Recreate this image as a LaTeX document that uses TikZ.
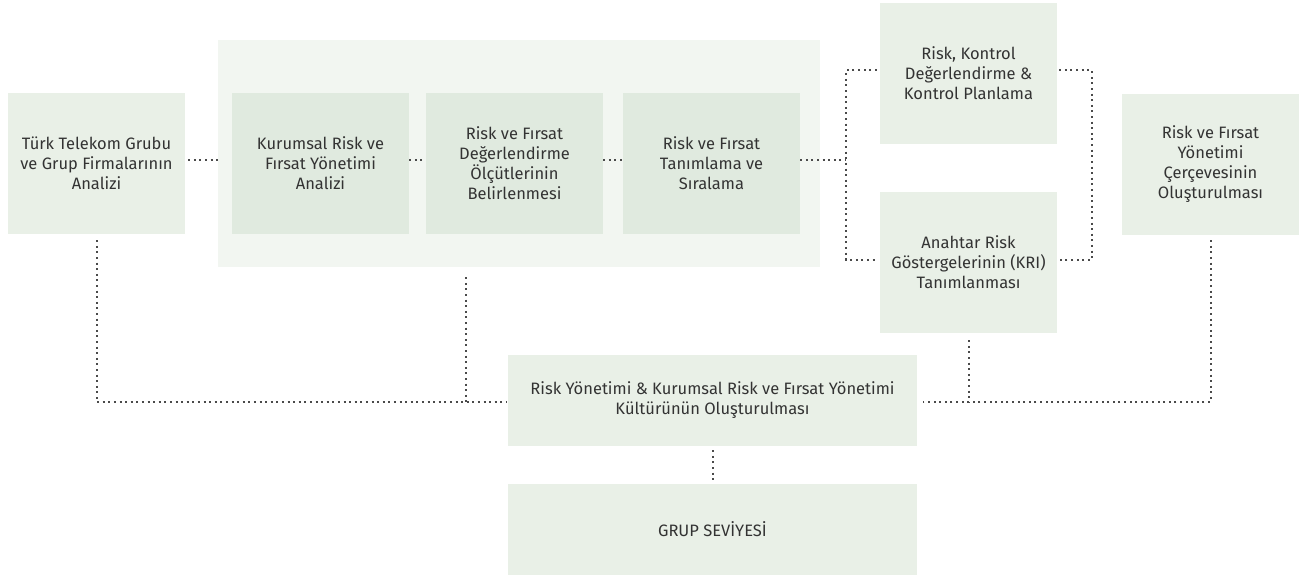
\documentclass[tikz,border=0pt]{standalone}
\usepackage{fontspec}
\setmainfont{Fira Sans}
\usepackage{xcolor}
\usetikzlibrary{
  positioning,
  calc
}
\definecolor{boxgreen}{HTML}{E9F0E7}
\definecolor{innergreen}{HTML}{E0EADF}
\definecolor{panelgreen}{HTML}{F2F6F1}
\definecolor{dotgray}{HTML}{4A4A4A}
\definecolor{textgray}{HTML}{333333}
\tikzset{
  stage box/.style={
    rectangle, fill=boxgreen,
    minimum width=177pt, minimum height=141pt,
    inner sep=0pt, align=center,
    text=textgray,
    font=\fontsize{16.5}{20}\selectfont
  },
  inner box/.style={
    stage box, fill=innergreen
  },
  wide box/.style={
    stage box, minimum width=409pt, minimum height=91pt
  },
  panel/.style={
    rectangle, fill=panelgreen, inner sep=0pt,
    minimum width=602pt, minimum height=227pt
  },
  dot line/.style={
    draw=dotgray, line width=2pt, dash pattern=on 2pt off 3.6pt
  },
}

\begin{document}
\begin{tikzpicture}[x=1pt, y=-1pt]
  \useasboundingbox (0,0) rectangle (1301,575);

  % Background panel
  \node[panel] (grp) at (519, 153.5) {};

  % Top row
  \node[stage box] (tt) at (96.5, 163.5)
    {Türk Telekom Grubu\\ve Grup Firmalarının\\Analizi};
  \node[inner box] (krm) at (320.5, 163.5)
    {Kurumsal Risk ve\\Fırsat Yönetimi\\Analizi};
  \node[inner box] (olc) at (514.5, 163.5)
    {Risk ve Fırsat\\Değerlendirme\\Ölçütlerinin\\Belirlenmesi};
  \node[inner box] (tnm) at (711.5, 163.5)
    {Risk ve Fırsat\\Tanımlama ve\\Sıralama};
  \node[stage box] (rkd) at (968.5, 73.5)
    {Risk, Kontrol\\Değerlendirme \&\\Kontrol Planlama};
  \node[stage box] (kri) at (968.5, 262.5)
    {Anahtar Risk\\Göstergelerinin (KRI)\\Tanımlanması};
  \node[stage box] (crc) at (1210.5, 164.5)
    {Risk ve Fırsat\\Yönetimi\\Çerçevesinin\\Oluşturulması};

  % Bottom row
  \node[wide box] (klt) at (712.5, 400.5)
    {Risk Yönetimi \& Kurumsal Risk ve Fırsat Yönetimi\\Kültürünün Oluşturulması};
  \node[wide box] (grup) at (712.5, 529.5) {GRUP SEVİYESİ};

  % Links along the top row
  \draw[dot line] ([xshift=3pt,yshift=3.5pt]tt.east) -- ([yshift=3.5pt]tt.east -| grp.west);
  \draw[dot line] ([yshift=3.5pt]krm.east) -- ([yshift=3.5pt]olc.west);
  \draw[dot line] ([yshift=3.5pt]olc.east) -- ([yshift=3.5pt]tnm.west);

  % Bracket to the two control boxes
  \coordinate (jl) at (846, 160);
  \coordinate (jr) at (1092, 259.5);
  \draw[dot line] ([yshift=3.5pt]tnm.east) -- (jl);
  \draw[dot line] ([xshift=-3pt,yshift=3pt]rkd.west) -| (jl)
    |- ([xshift=-3pt,yshift=3pt]kri.west);
  \draw[dot line] ([xshift=2pt,yshift=3pt]rkd.east) -| (jr)
    -- ([xshift=2pt,yshift=3pt]kri.east);

  % Bus under the boxes
  \coordinate (bus) at (0, 402);
  \draw[dot line] ([yshift=-6pt]tt.south) -- (tt.south |- bus)
    -- ([xshift=-1pt]klt.west |- bus);
  \draw[dot line] ([xshift=-53pt,yshift=-10pt]grp.south)
    -- ($(grp.south |- bus)+(-53,0)$);
  \draw[dot line] ([yshift=-7pt]kri.south) -- (kri.south |- bus);
  \draw[dot line] ([yshift=-5pt]crc.south) -- (crc.south |- bus)
    -- ([xshift=6pt]klt.east |- bus);
  \draw[dot line] ([yshift=-4pt]klt.south) -- ([yshift=4pt]grup.north);

\end{tikzpicture}
\end{document}
